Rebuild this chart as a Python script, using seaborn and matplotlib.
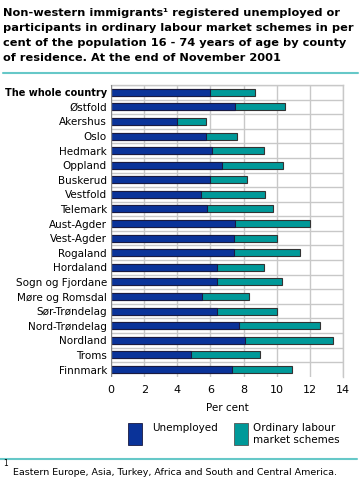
import matplotlib
matplotlib.use("Agg")
import matplotlib.pyplot as plt
from matplotlib.patches import Rectangle
from matplotlib.lines import Line2D
import pandas as pd
import seaborn as sns

counties = [
    "The whole country", "Østfold", "Akershus", "Oslo", "Hedmark", "Oppland",
    "Buskerud", "Vestfold", "Telemark", "Aust-Agder", "Vest-Agder", "Rogaland",
    "Hordaland", "Sogn og Fjordane", "Møre og Romsdal", "Sør-Trøndelag",
    "Nord-Trøndelag", "Nordland", "Troms", "Finnmark",
]
unemployed = [6.0, 7.5, 4.0, 5.7, 6.1, 6.7, 6.0, 5.4, 5.8, 7.5, 7.4, 7.4,
              6.4, 6.4, 5.5, 6.4, 7.7, 8.1, 4.8, 7.3]
schemes = [2.7, 3.0, 1.7, 1.9, 3.1, 3.7, 2.2, 3.9, 4.0, 4.5, 2.6, 4.0,
           2.8, 3.9, 2.8, 3.6, 4.9, 5.3, 4.2, 3.6]

BLUE = "#0a3399"
TEAL = "#009999"
GRID = "#c8c8c8"
LINE = "#66c8c8"

df = pd.DataFrame({"county": counties, "unemployed": unemployed, "schemes": schemes})
df["total"] = df["unemployed"] + df["schemes"]

sns.set_theme(style="white")
plt.rcParams["font.family"] = ["DejaVu Sans"]
plt.rcParams["text.color"] = "black"
plt.rcParams["xtick.color"] = "black"
plt.rcParams["ytick.color"] = "black"
plt.rcParams["axes.labelcolor"] = "black"

fig = plt.figure(figsize=(3.63, 4.8), dpi=100)
ax = fig.add_axes([0.306, 0.215, 0.639, 0.608])

# teal = total length, blue drawn on top -> stacked look
sns.barplot(data=df, y="county", x="total", color=TEAL, orient="h", width=0.48,
            edgecolor="#333333", linewidth=0.8, ax=ax, saturation=1, zorder=3)
sns.barplot(data=df, y="county", x="unemployed", color=BLUE, orient="h", width=0.48,
            edgecolor="#1a1a40", linewidth=0.8, ax=ax, saturation=1, zorder=4)

n = len(counties)
ax.set_xlim(0, 14)
ax.set_ylim(n - 0.5, -0.5)
ax.set_xticks(range(0, 15, 2))
for x in range(2, 15, 2):
    ax.axvline(x, color=GRID, lw=1, zorder=1)
for i in range(n):
    ax.axhline(i - 0.5, color=GRID, lw=1, zorder=1)
for s in ["top", "right"]:
    ax.spines[s].set_color(GRID)
    ax.spines[s].set_linewidth(1)
for s in ["left", "bottom"]:
    ax.spines[s].set_visible(False)
ax.axvline(0, color="#888888", lw=1, zorder=5)

ax.set_ylabel("")
ax.set_xlabel("Per cent", fontsize=7.5, labelpad=6)
ax.tick_params(axis="both", length=0, labelsize=7.5, pad=3)
ax.tick_params(axis="x", labelsize=8, pad=6)
first = ax.get_yticklabels()[0]
first.set_fontweight("bold")
first.set_fontsize(7.0)

title_lines = [
    "Non-western immigrants¹ registered unemployed or",
    "participants in ordinary labour market schemes in per",
    "cent of the population 16 - 74 years of age by county",
    "of residence. At the end of November 2001",
]
for i, line in enumerate(title_lines):
    fig.text(0.008, 0.973 - i * 0.0312, line, ha="left", va="center",
             fontsize=8.2, fontweight="bold")
fig.add_artist(Line2D([0.008, 0.985], [0.847, 0.847], color=LINE, lw=1.5))

# legend
fig.add_artist(Rectangle((0.353, 0.073), 0.038, 0.046, facecolor=BLUE,
                         edgecolor="#1a1a40", lw=0.6))
fig.text(0.418, 0.108, "Unemployed", fontsize=7.5, va="center")
fig.add_artist(Rectangle((0.645, 0.073), 0.038, 0.046, facecolor=TEAL,
                         edgecolor="#555555", lw=0.6))
fig.text(0.697, 0.096, "Ordinary labour\nmarket schemes", fontsize=7.5, va="center",
         linespacing=1.2)

fig.add_artist(Line2D([0.0, 0.983], [0.044, 0.044], color=LINE, lw=1.5))
fig.text(0.008, 0.024, "1", fontsize=5.5, va="bottom")
fig.text(0.036, 0.015, "Eastern Europe, Asia, Turkey, Africa and South and Central America.",
         fontsize=6.8, va="center")

fig.savefig("out.png", dpi=100)
